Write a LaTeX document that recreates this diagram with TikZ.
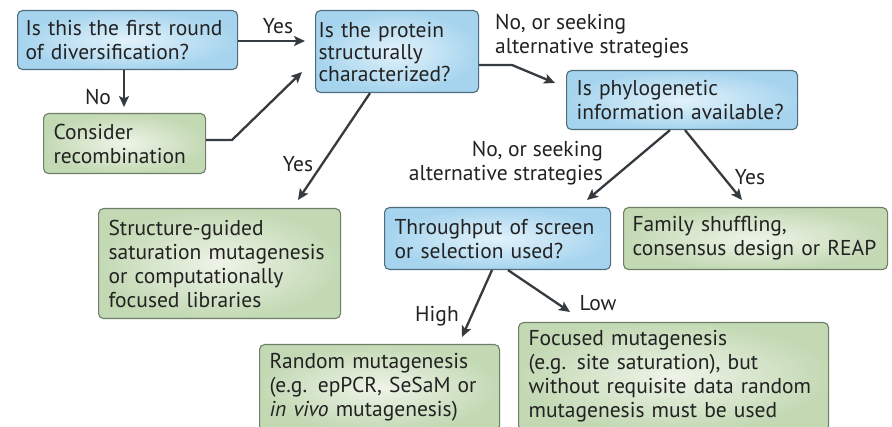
\documentclass[tikz,border=0pt]{standalone}
\usepackage{fontspec}
\setmainfont{PT Sans}
\usetikzlibrary{arrows.meta,calc}
\definecolor{arr}{HTML}{363B40}
\definecolor{txt}{HTML}{222222}
\definecolor{bluein}{HTML}{E2F2FB}
\definecolor{blueout}{HTML}{A6D4EE}
\definecolor{blueline}{HTML}{4E6C7C}
\definecolor{greenin}{HTML}{EEF4E8}
\definecolor{greenout}{HTML}{C3D9B4}
\definecolor{greenline}{HTML}{6F7F67}
\tikzset{
  box/.style={rounded corners=5pt, line width=1.1pt, anchor=north west, align=left,
    inner xsep=10pt, inner ysep=0pt, text=txt,
    font=\fontsize{21.5}{24}\selectfont},
  bluebox/.style={box, draw=blueline, inner color=bluein, outer color=blueout},
  greenbox/.style={box, draw=greenline, inner color=greenin, outer color=greenout},
  conn/.style={draw=arr, line width=2.3pt, -{Stealth[length=11pt,width=10pt,inset=2.5pt]}},
  lbl/.style={text=txt, font=\fontsize{21.5}{24}\selectfont, inner sep=0pt, align=left}
}
\begin{document}
\begin{tikzpicture}[x=1pt,y=-1pt]
\useasboundingbox (0,0) rectangle (892,427);
\clip (0,0) rectangle (892,427);
\fill[white] (0,0) rectangle (892,427);

\node[bluebox, inner xsep=8pt, text width=204pt, minimum height=59pt] (q1) at (17,10) {Is this the first round\\of diversification?};
\node[greenbox, text width=142pt, minimum height=60pt] (rec) at (43,113) {Consider\\recombination};
\node[bluebox, inner xsep=3pt, text width=157pt, minimum height=82pt, font=\fontsize{21.5}{22}\selectfont] (q2) at (315,10) {Is the protein\\structurally\\characterized?};
\node[bluebox, text width=211pt, minimum height=59pt] (q3) at (566,70) {Is phylogenetic\\information available?};
\node[greenbox, text width=222pt, minimum height=110pt] (sg) at (98,208) {Structure-guided\\saturation mutagenesis\\or computationally\\focused libraries};
\node[bluebox, text width=206pt, minimum height=62pt] (tp) at (384,207) {Throughput of screen\\or selection used?};
\node[greenbox, inner xsep=9pt, text width=246pt, minimum height=62pt] (fam) at (623,207) {Family shuffling,\\consensus design or REAP};
\node[greenbox, text width=220pt, minimum height=86pt] (rnd) at (259,344) {Random mutagenesis\\(e.g. epPCR, SeSaM or\\\textit{in vivo} mutagenesis)};
\node[greenbox, text width=290pt, minimum height=108pt] (foc) at (518,322) {Focused mutagenesis\\(e.g. site saturation), but\\without requisite data random\\mutagenesis must be used};

% arrow end points
\coordinate (t1) at (305,41);
\coordinate (s1) at (237,41);
\coordinate (s2) at (124,69);
\coordinate (t2) at (124,107);
\coordinate (s3) at (205,140);
\coordinate (b3) at (232,140);
\coordinate (t3) at (302,72);
\coordinate (s4) at (370,92);
\coordinate (t4) at (298,200);
\coordinate (s5) at (478,65);
\coordinate (b5) at (512,65);
\coordinate (t5) at (555,83);
\coordinate (s6) at (670,129);
\coordinate (t6) at (587,200);
\coordinate (s7) at (685,129);
\coordinate (t7) at (742,200);
\coordinate (s8) at (492,269);
\coordinate (t8) at (462,337);
\coordinate (s9) at (508,269);
\coordinate (t9) at (570,312);

\draw[conn] (q1.east |- s1) -- (t1);
\draw[conn] (q1.south -| s2) -- (t2);
\draw[conn] (rec.east |- s3) -- (b3) -- (t3);
\draw[conn] (q2.south -| s4) -- (t4);
\draw[conn] (q2.east |- s5) -- (b5) -- (t5);
\draw[conn] (q3.south -| s6) -- (t6);
\draw[conn] (q3.south -| s7) -- (t7);
\draw[conn] (tp.south -| s8) -- (t8);
\draw[conn] (tp.south -| s9) -- (t9);

\node[lbl] (l1) at (278,26) {Yes};
\node[lbl] (l2) at (98,97) {No};
\node[lbl] (l3) at (298,164) {Yes};
\node[lbl, anchor=north west] (l4) at (495,14) {No, or seeking\\alternative strategies};
\node[lbl, anchor=north east, align=right] (l5) at (603,141) {No, or seeking\\alternative strategies};
\node[lbl] (l6) at (750,177) {Yes};
\node[lbl] (l7) at (437,316) {High};
\node[lbl] (l8) at (598,303) {Low};
\end{tikzpicture}
\end{document}
